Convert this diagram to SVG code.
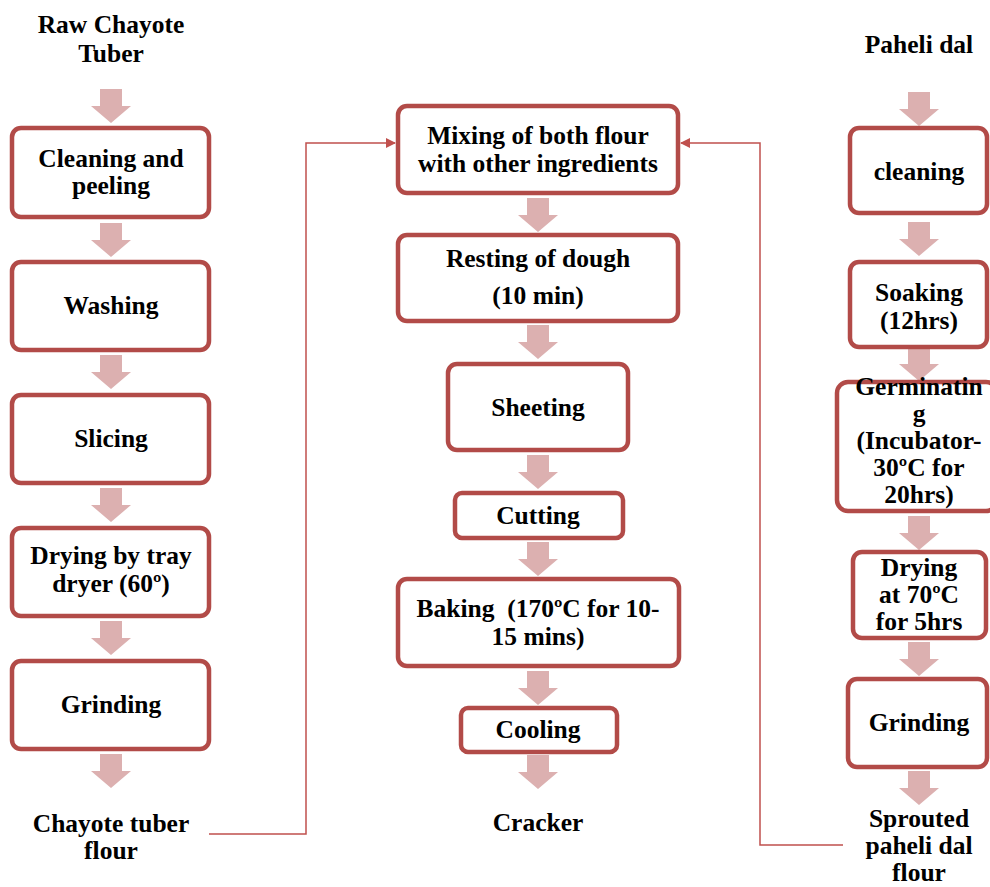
<svg xmlns="http://www.w3.org/2000/svg" xmlns:xlink="http://www.w3.org/1999/xlink" width="990" height="887" viewBox="0 0 990 887">
<style>
.box{fill:#fff;stroke:#b24b48;stroke-width:4.5}
.t{font-family:"Liberation Serif","Times New Roman",serif;font-weight:bold;font-size:25.5px;fill:#000;text-anchor:middle}
.ba{fill:#dcb0b0}
.con{fill:none;stroke:#c0504d;stroke-width:1.5}
</style>
<defs>
<path id="ar" class="ba" d="M-11,0 h22 v17 h9 l-20,17 l-20,-17 h9 z"/>
<marker id="mh" markerWidth="10" markerHeight="10" refX="9" refY="5" orient="auto" markerUnits="userSpaceOnUse"><path d="M0,0 L10,5 L0,10 z" fill="#c0504d"/></marker>
</defs>
<rect width="990" height="887" fill="#fff"/>
<g id="connectors">
<polyline class="con" points="209,834 306,834 306,143 395,143" marker-end="url(#mh)"/>
<polyline class="con" points="843,845 760,845 760,143 681,143" marker-end="url(#mh)"/>
</g>
<g id="arrows">
<use xlink:href="#ar" x="111" y="89"/>
<use xlink:href="#ar" x="111" y="223"/>
<use xlink:href="#ar" x="111" y="355"/>
<use xlink:href="#ar" x="111" y="488"/>
<use xlink:href="#ar" x="111" y="621"/>
<use xlink:href="#ar" x="111" y="754"/>
<use xlink:href="#ar" x="538" y="198"/>
<use xlink:href="#ar" x="538" y="325"/>
<use xlink:href="#ar" x="538" y="455"/>
<use xlink:href="#ar" x="538" y="542"/>
<use xlink:href="#ar" x="538" y="671"/>
<use xlink:href="#ar" x="538" y="755"/>
<use xlink:href="#ar" x="919" y="92"/>
<use xlink:href="#ar" x="919" y="222"/>
<use xlink:href="#ar" x="919" y="347"/>
<use xlink:href="#ar" x="919" y="516"/>
<use xlink:href="#ar" x="919" y="642"/>
<use xlink:href="#ar" x="919" y="771"/>
</g>
<g id="raw"><text class="t" x="111" y="33">Raw Chayote</text><text class="t" x="111" y="62">Tuber</text></g>
<g id="clean1"><rect class="box" x="12" y="128" width="197" height="89" rx="9"/><text class="t" x="111" y="167">Cleaning and</text><text class="t" x="111" y="194">peeling</text></g>
<g id="wash"><rect class="box" x="12" y="262" width="197" height="88" rx="9"/><text class="t" x="111" y="314">Washing</text></g>
<g id="slice"><rect class="box" x="12" y="395" width="197" height="88" rx="9"/><text class="t" x="111" y="447">Slicing</text></g>
<g id="dry1"><rect class="box" x="12" y="528" width="197" height="88" rx="9"/><text class="t" x="111" y="564">Drying by tray</text><text class="t" x="111" y="592">dryer (60º)</text></g>
<g id="grind1"><rect class="box" x="12" y="661" width="197" height="88" rx="9"/><text class="t" x="111" y="713">Grinding</text></g>
<g id="ctf"><text class="t" x="111" y="832">Chayote tuber</text><text class="t" x="111" y="859">flour</text></g>
<g id="mix"><rect class="box" x="398" y="106" width="280" height="87" rx="9"/><text class="t" x="538" y="144">Mixing of both flour</text><text class="t" x="538" y="172">with other ingredients</text></g>
<g id="rest"><rect class="box" x="398" y="235" width="280" height="86" rx="9"/><text class="t" x="538" y="267">Resting of dough</text><text class="t" x="538" y="304">(10 min)</text></g>
<g id="sheet"><rect class="box" x="448" y="364" width="180" height="86" rx="9"/><text class="t" x="538" y="416">Sheeting</text></g>
<g id="cut"><rect class="box" x="455" y="493" width="168" height="45" rx="7"/><text class="t" x="538" y="524">Cutting</text></g>
<g id="bake"><rect class="box" x="398" y="579" width="281" height="87" rx="9"/><text class="t" x="538" y="617" xml:space="preserve">Baking&#160; (170ºC for 10-</text><text class="t" x="538" y="645">15 mins)</text></g>
<g id="cool"><rect class="box" x="461" y="708" width="156" height="44" rx="7"/><text class="t" x="538" y="738">Cooling</text></g>
<g id="cracker"><text class="t" x="538" y="831">Cracker</text></g>
<g id="paheli"><text class="t" x="919" y="53">Paheli dal</text></g>
<g id="clean2"><rect class="box" x="850" y="128" width="137" height="85" rx="9"/><text class="t" x="919" y="180">cleaning</text></g>
<g id="soak"><rect class="box" x="850" y="262" width="137" height="85" rx="9"/><text class="t" x="919" y="301">Soaking</text><text class="t" x="919" y="329">(12hrs)</text></g>
<g id="germ"><rect class="box" x="837" y="382" width="160" height="129" rx="11"/><text class="t" x="919" y="395">Germinatin</text><text class="t" x="919" y="422">g</text><text class="t" x="919" y="449">(Incubator-</text><text class="t" x="919" y="476">30ºC for</text><text class="t" x="919" y="503">20hrs)</text></g>
<g id="dry2"><rect class="box" x="853" y="552" width="133" height="86" rx="9"/><text class="t" x="919" y="576">Drying</text><text class="t" x="919" y="603">at 70ºC</text><text class="t" x="919" y="630">for 5hrs</text></g>
<g id="grind2"><rect class="box" x="848" y="679" width="139" height="88" rx="9"/><text class="t" x="919" y="731">Grinding</text></g>
<g id="spf"><text class="t" x="919" y="827">Sprouted</text><text class="t" x="919" y="854">paheli dal</text><text class="t" x="919" y="881">flour</text></g>
</svg>
